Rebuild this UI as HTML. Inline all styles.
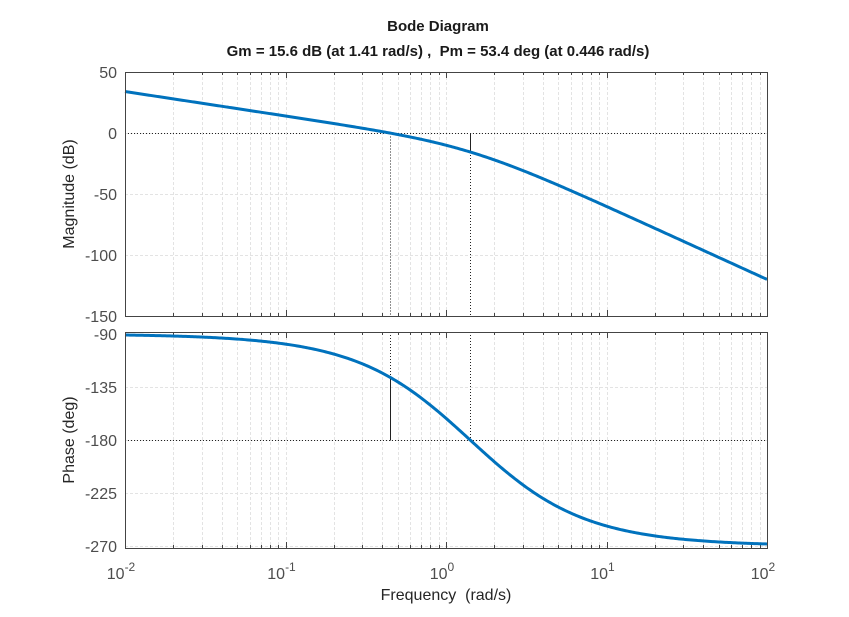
<!DOCTYPE html>
<html><head><meta charset="utf-8"><style>
body{margin:0;background:#fff}
svg{display:block}
text{font-family:"Liberation Sans",Arial,sans-serif}
</style></head><body>
<svg id="s" width="849" height="617" xmlns="http://www.w3.org/2000/svg">
<rect width="849" height="617" fill="#fff"/>
<g id="g"></g>
<text x="438" y="31" text-anchor="middle" font-size="15" font-weight="bold" fill="#1a1a1a">Bode Diagram</text>
<text x="438" y="56" text-anchor="middle" font-size="15" font-weight="bold" fill="#1a1a1a" xml:space="preserve">Gm = 15.6 dB (at 1.41 rad/s) ,  Pm = 53.4 deg (at 0.446 rad/s)</text>
<text x="446" y="600" text-anchor="middle" font-size="16" fill="#262626" xml:space="preserve">Frequency  (rad/s)</text>
<text transform="translate(74,194) rotate(-90)" text-anchor="middle" font-size="16" fill="#262626">Magnitude (dB)</text>
<text transform="translate(74,440) rotate(-90)" text-anchor="middle" font-size="16" fill="#262626">Phase (deg)</text>
</svg>
<script>
const L=125,R=767,D=(R-L)/4;
const T1=72,B1=316,T2=332,B2=548;
const X=w=>L+(Math.log10(w)+2)*D;
const Y1=m=>T1+(50-m)*(B1-T1)/200;
const pps=(546-334)/180;
const Y2=p=>334+(-90-p)*pps;
let h='';
function ln(x1,y1,x2,y2,st){h+=`<line x1="${x1}" y1="${y1}" x2="${x2}" y2="${y2}" ${st}/>`;}
const grid='stroke="#e3e3e3" stroke-width="1" stroke-dasharray="3,2"';
for(const [T,B] of [[T1,B1],[T2,B2]]){
 for(let e=-2;e<2;e++)for(let k=1;k<10;k++){const x=Math.round(X(k*10**e))+.5; if(k>1||e>-2) ln(x,T,x,B,grid);}
}
for(const m of [0,-50,-100]){const y=Math.round(Y1(m))+.5;ln(L,y,R,y,grid);}
for(const p of [-135,-180,-225,-270]){const y=Math.round(Y2(p))+.5;ln(L,y,R,y,grid);}
for(const [T,B] of [[T1,B1],[T2,B2]]){
 for(let e=-2;e<2;e++)for(let k=1;k<10;k++){const x=Math.round(X(k*10**e))+.5;const tl=k==1?6:3;ln(x,B,x,B-tl,'stroke="#444"');ln(x,T,x,T+tl,'stroke="#444"');}
}
for(const m of [50,0,-50,-100,-150]){h+=`<text x="${L-8}" y="${Y1(m)+6}" text-anchor="end" font-size="16" fill="#4d4d4d">${m}</text>`;}
for(const p of [-90,-135,-180,-225,-270]){h+=`<text x="${L-8}" y="${Y2(p)+6}" text-anchor="end" font-size="16" fill="#4d4d4d">${p}</text>`;}
for(let e=-2;e<=2;e++){h+=`<text x="${X(10**e)-4}" y="579" text-anchor="middle" font-size="16" fill="#4d4d4d">10<tspan dy="-8" font-size="12">${e}</tspan></text>`;}
let p1='',p2='';
for(let i=0;i<=400;i++){const w=10**(-2+4*i/400);
 const mag=-20*Math.log10(w*Math.sqrt(1+w*w)*Math.sqrt(4+w*w));
 const ph=-90-(Math.atan(w)+Math.atan(w/2))*180/Math.PI;
 p1+=`${X(w).toFixed(2)},${Y1(mag).toFixed(2)} `;p2+=`${X(w).toFixed(2)},${Y2(ph).toFixed(2)} `;}
const y0=Math.round(Y1(0))+.5,y180=Math.round(Y2(-180))+.5;
ln(L,y0,R,y0,'stroke="#222" stroke-dasharray="1,2"');
ln(L,y180,R,y180,'stroke="#222" stroke-dasharray="1,2"');
const xp=Math.round(X(0.446))+.5,xg=Math.round(X(1.414))+.5;
ln(xp,y0,xp,B1,'stroke="#222" stroke-dasharray="1,2"');
ln(xg,y0,xg,Y1(-15.6),'stroke="#222"');
ln(xg,Y1(-15.6),xg,B1,'stroke="#222" stroke-dasharray="1,2"');
ln(xp,T2,xp,Y2(-126.6),'stroke="#222" stroke-dasharray="1,2"');
ln(xp,Y2(-126.6),xp,y180,'stroke="#222"');
ln(xg,T2,xg,y180,'stroke="#222" stroke-dasharray="1,2"');
h+=`<polyline points="${p1}" fill="none" stroke="#0072bd" stroke-width="3"/>`;
h+=`<polyline points="${p2}" fill="none" stroke="#0072bd" stroke-width="3"/>`;
h+=`<rect x="${L+.5}" y="${T1+.5}" width="${R-L}" height="${B1-T1}" fill="none" stroke="#444"/>`;
h+=`<rect x="${L+.5}" y="${T2+.5}" width="${R-L}" height="${B2-T2}" fill="none" stroke="#444"/>`;
document.getElementById('g').innerHTML=h;
</script>
</body></html>
